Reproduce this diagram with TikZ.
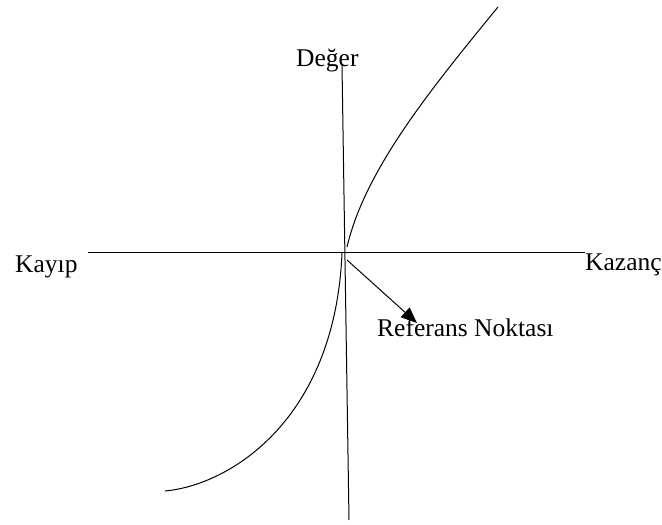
\documentclass[tikz,border=0pt]{standalone}
\usepackage{fontspec}
\setmainfont{Liberation Serif}
\usetikzlibrary{arrows.meta}
\tikzset{
  lbl/.style={inner sep=0pt, anchor=base west, font=\fontsize{25.5}{30}\selectfont},
  axis/.style={line width=1pt},
  curve/.style={line width=1pt},
}
\begin{document}
\begin{tikzpicture}[x=1pt,y=-1pt]
\useasboundingbox (0,0) rectangle (662,525);
% axes
\coordinate (hl) at (88,252);
\coordinate (hr) at (585,252);
\coordinate (vt) at (342,65);
\coordinate (vb) at (349,520);
\draw[axis] (hl) -- (hr);
\draw[axis] (vt) -- (vb);
% labels
\node[lbl] (deger) at (296,66) {Değer};
\node[lbl] (kayip) at (15,272) {Kayıp};
\node[lbl] (kazanc) at (585,270) {Kazanç};
\node[lbl] (ref) at (377,336) {Referans Noktası};
% value curve
\coordinate (g0) at (347,247);
\coordinate (g1) at (498,7);
\coordinate (l0) at (342,253);
\coordinate (l1) at (165,491);
\draw[curve] (g0) .. controls (365,170) and (430,90) .. (g1);
\draw[curve] (l0) .. controls (335,420) and (230,485) .. (l1);
% reference point arrow
\coordinate (o) at (347,260);
\coordinate (tip) at (417,323);
\draw[axis, -{Triangle[length=16pt,width=13pt]}] (o) -- (tip);
\end{tikzpicture}
\end{document}
